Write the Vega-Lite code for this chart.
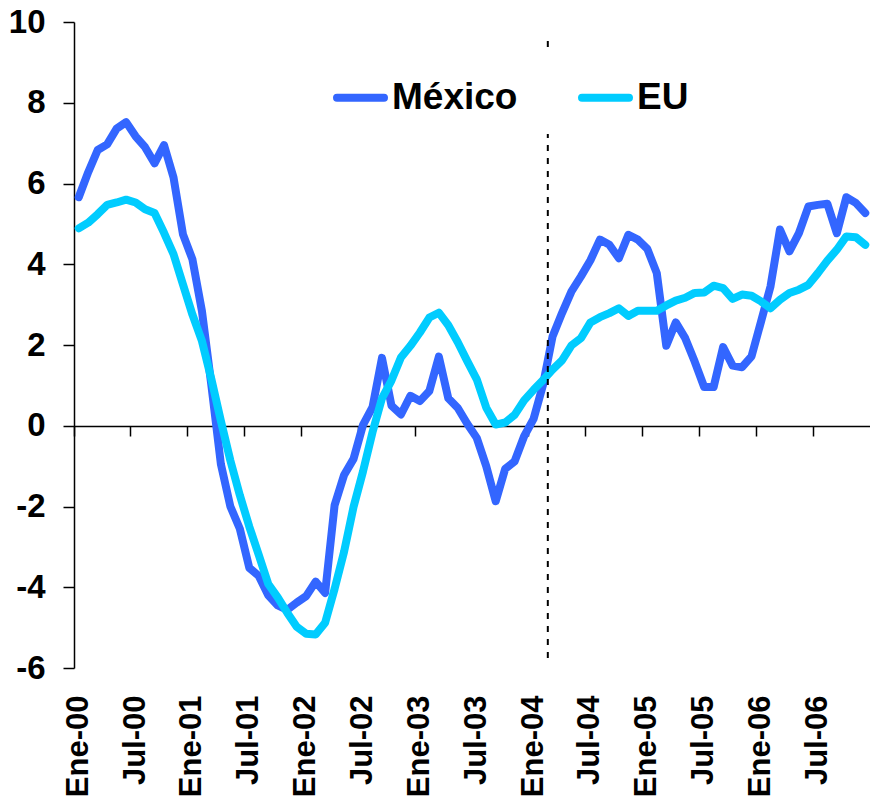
{
  "$schema": "https://vega.github.io/schema/vega-lite/v6.json",
  "width": 796,
  "height": 646,
  "autosize": {"type": "none"},
  "padding": {"left": 74, "top": 22, "right": 0, "bottom": 131},
  "background": "white",
  "config": {"view": {"stroke": null}, "font": "Liberation Sans"},
  "layer": [
    {
      "data": {"values": [
        {"mes":"Ene-00","México":5.66,"EU":4.89},{"mes":"Feb-00","México":6.28,"EU":5.03},{"mes":"Mar-00","México":6.83,"EU":5.24},{"mes":"Abr-00","México":6.97,"EU":5.47},{"mes":"May-00","México":7.36,"EU":5.53},{"mes":"Jun-00","México":7.52,"EU":5.6},{"mes":"Jul-00","México":7.17,"EU":5.53},{"mes":"Ago-00","México":6.9,"EU":5.36},{"mes":"Sep-00","México":6.5,"EU":5.27},{"mes":"Oct-00","México":6.95,"EU":4.78},{"mes":"Nov-00","México":6.15,"EU":4.25},{"mes":"Dic-00","México":4.74,"EU":3.5},
        {"mes":"Ene-01","México":4.12,"EU":2.75},{"mes":"Feb-01","México":2.84,"EU":2.1},{"mes":"Mar-01","México":1.0,"EU":1.15},{"mes":"Abr-01","México":-0.95,"EU":0.12},{"mes":"May-01","México":-2.0,"EU":-0.86},{"mes":"Jun-01","México":-2.55,"EU":-1.72},{"mes":"Jul-01","México":-3.52,"EU":-2.5},{"mes":"Ago-01","México":-3.72,"EU":-3.2},{"mes":"Sep-01","México":-4.2,"EU":-3.92},{"mes":"Oct-01","México":-4.45,"EU":-4.25},{"mes":"Nov-01","México":-4.56,"EU":-4.63},{"mes":"Dic-01","México":-4.38,"EU":-4.98},
        {"mes":"Ene-02","México":-4.22,"EU":-5.15},{"mes":"Feb-02","México":-3.86,"EU":-5.17},{"mes":"Mar-02","México":-4.14,"EU":-4.88},{"mes":"Abr-02","México":-1.97,"EU":-4.04},{"mes":"May-02","México":-1.22,"EU":-3.12},{"mes":"Jun-02","México":-0.82,"EU":-2.01},{"mes":"Jul-02","México":0.02,"EU":-1.13},{"mes":"Ago-02","México":0.46,"EU":-0.16},{"mes":"Sep-02","México":1.68,"EU":0.68},{"mes":"Oct-02","México":0.5,"EU":1.12},{"mes":"Nov-02","México":0.28,"EU":1.69},{"mes":"Dic-02","México":0.74,"EU":1.98},
        {"mes":"Ene-03","México":0.61,"EU":2.31},{"mes":"Feb-03","México":0.86,"EU":2.68},{"mes":"Mar-03","México":1.71,"EU":2.8},{"mes":"Abr-03","México":0.68,"EU":2.49},{"mes":"May-03","México":0.44,"EU":2.07},{"mes":"Jun-03","México":0.05,"EU":1.6},{"mes":"Jul-03","México":-0.3,"EU":1.15},{"mes":"Ago-03","México":-1.0,"EU":0.45},{"mes":"Sep-03","México":-1.87,"EU":0.03},{"mes":"Oct-03","México":-1.07,"EU":0.08},{"mes":"Nov-03","México":-0.88,"EU":0.27},{"mes":"Dic-03","México":-0.26,"EU":0.63},
        {"mes":"Ene-04","México":0.17,"EU":0.89},{"mes":"Feb-04","México":1.02,"EU":1.13},{"mes":"Mar-04","México":2.21,"EU":1.39},{"mes":"Abr-04","México":2.79,"EU":1.62},{"mes":"May-04","México":3.33,"EU":1.99},{"mes":"Jun-04","México":3.7,"EU":2.17},{"mes":"Jul-04","México":4.1,"EU":2.56},{"mes":"Ago-04","México":4.61,"EU":2.69},{"mes":"Sep-04","México":4.48,"EU":2.79},{"mes":"Oct-04","México":4.15,"EU":2.91},{"mes":"Nov-04","México":4.73,"EU":2.72},{"mes":"Dic-04","México":4.61,"EU":2.85},
        {"mes":"Ene-05","México":4.38,"EU":2.85},{"mes":"Feb-05","México":3.78,"EU":2.85},{"mes":"Mar-05","México":1.98,"EU":2.98},{"mes":"Abr-05","México":2.56,"EU":3.1},{"mes":"May-05","México":2.17,"EU":3.17},{"mes":"Jun-05","México":1.59,"EU":3.29},{"mes":"Jul-05","México":0.96,"EU":3.3},{"mes":"Ago-05","México":0.96,"EU":3.47},{"mes":"Sep-05","México":1.95,"EU":3.41},{"mes":"Oct-05","México":1.49,"EU":3.14},{"mes":"Nov-05","México":1.45,"EU":3.25},{"mes":"Dic-05","México":1.72,"EU":3.22},
        {"mes":"Ene-06","México":2.58,"EU":3.08},{"mes":"Feb-06","México":3.45,"EU":2.91},{"mes":"Mar-06","México":4.86,"EU":3.12},{"mes":"Abr-06","México":4.32,"EU":3.29},{"mes":"May-06","México":4.77,"EU":3.37},{"mes":"Jun-06","México":5.43,"EU":3.49},{"mes":"Jul-06","México":5.47,"EU":3.78},{"mes":"Ago-06","México":5.5,"EU":4.09},{"mes":"Sep-06","México":4.77,"EU":4.36},{"mes":"Oct-06","México":5.66,"EU":4.69},{"mes":"Nov-06","México":5.52,"EU":4.67},{"mes":"Dic-06","México":5.27,"EU":4.48}
      ]},
      "transform": [{"fold": ["México", "EU"], "as": ["pais", "valor"]}],
      "mark": {"type": "line", "strokeWidth": 8, "strokeCap": "round", "strokeJoin": "round"},
      "encoding": {
        "x": {
          "field": "mes", "type": "ordinal", "sort": null,
          "scale": {"type": "band", "paddingInner": 0, "paddingOuter": 0,
            "domain": ["Ene-00","Feb-00","Mar-00","Abr-00","May-00","Jun-00","Jul-00","Ago-00","Sep-00","Oct-00","Nov-00","Dic-00","Ene-01","Feb-01","Mar-01","Abr-01","May-01","Jun-01","Jul-01","Ago-01","Sep-01","Oct-01","Nov-01","Dic-01","Ene-02","Feb-02","Mar-02","Abr-02","May-02","Jun-02","Jul-02","Ago-02","Sep-02","Oct-02","Nov-02","Dic-02","Ene-03","Feb-03","Mar-03","Abr-03","May-03","Jun-03","Jul-03","Ago-03","Sep-03","Oct-03","Nov-03","Dic-03","Ene-04","Feb-04","Mar-04","Abr-04","May-04","Jun-04","Jul-04","Ago-04","Sep-04","Oct-04","Nov-04","Dic-04","Ene-05","Feb-05","Mar-05","Abr-05","May-05","Jun-05","Jul-05","Ago-05","Sep-05","Oct-05","Nov-05","Dic-05","Ene-06","Feb-06","Mar-06","Abr-06","May-06","Jun-06","Jul-06","Ago-06","Sep-06","Oct-06","Nov-06","Dic-06"]},
          "axis": {
            "orient": "bottom",
            "values": ["Ene-00","Jul-00","Ene-01","Jul-01","Ene-02","Jul-02","Ene-03","Jul-03","Ene-04","Jul-04","Ene-05","Jul-05","Ene-06","Jul-06"],
            "title": null, "grid": false, "domain": false, "ticks": false, "tickSize": 0,
            "labelAngle": -90, "labelFontSize": 31, "labelFontWeight": "bold", "labelFont": "Liberation Sans",
            "labelColor": "black", "labelPadding": 27, "labelOverlap": false, "labelFlush": false
          }
        },
        "y": {
          "field": "valor", "type": "quantitative",
          "scale": {"domain": [-6, 10], "nice": false, "zero": false},
          "axis": {
            "values": [-6, -4, -2, 0, 2, 4, 6, 8, 10], "title": null, "grid": false,
            "labelExpr": "toString(datum.value)",
            "labelFontSize": 33, "labelFontWeight": "bold", "labelFont": "Liberation Sans", "labelColor": "black",
            "domainColor": "black", "domainWidth": 1.5, "tickColor": "black", "tickWidth": 1.5, "tickSize": 11,
            "labelPadding": 18, "labelFlush": false
          }
        },
        "color": {
          "field": "pais", "type": "nominal",
          "scale": {"domain": ["México", "EU"], "range": ["#3366FF", "#00CCFF"]},
          "legend": {
            "orient": "none", "legendX": 241, "legendY": 30, "direction": "horizontal", "title": null,
            "symbolType": "stroke", "symbolSize": 2209, "symbolStrokeWidth": 8,
            "labelFontSize": 37, "labelFontWeight": "bold", "labelFont": "Liberation Sans", "labelColor": "black",
            "labelOffset": 4, "columnPadding": 48, "padding": 18, "fillColor": "white", "labelLimit": 400,
            "zindex": 1,
            "encode": {"symbols": {"update": {"strokeCap": {"value": "round"}}}}
          }
        }
      }
    },
    {
      "data": {"values": [{"mes": "Mar-04", "desde": -5.75, "hasta": 9.63}]},
      "mark": {"type": "rule", "color": "black", "strokeWidth": 2, "strokeDash": [6, 7]},
      "encoding": {
        "x": {
          "field": "mes", "type": "ordinal", "bandPosition": 0,
          "axis": {
            "orient": "bottom",
            "values": ["Ene-00","Jul-00","Ene-01","Jul-01","Ene-02","Jul-02","Ene-03","Jul-03","Ene-04","Jul-04","Ene-05","Jul-05","Ene-06","Jul-06"],
            "title": null, "grid": false, "labels": false, "domain": true, "domainColor": "black", "domainWidth": 1.5,
            "ticks": true, "tickColor": "black", "tickWidth": 1.5, "tickSize": 10, "bandPosition": 0, "offset": -242
          }
        },
        "y": {"field": "desde", "type": "quantitative"},
        "y2": {"field": "hasta"}
      }
    }
  ],
  "resolve": {"axis": {"x": "independent"}}
}
